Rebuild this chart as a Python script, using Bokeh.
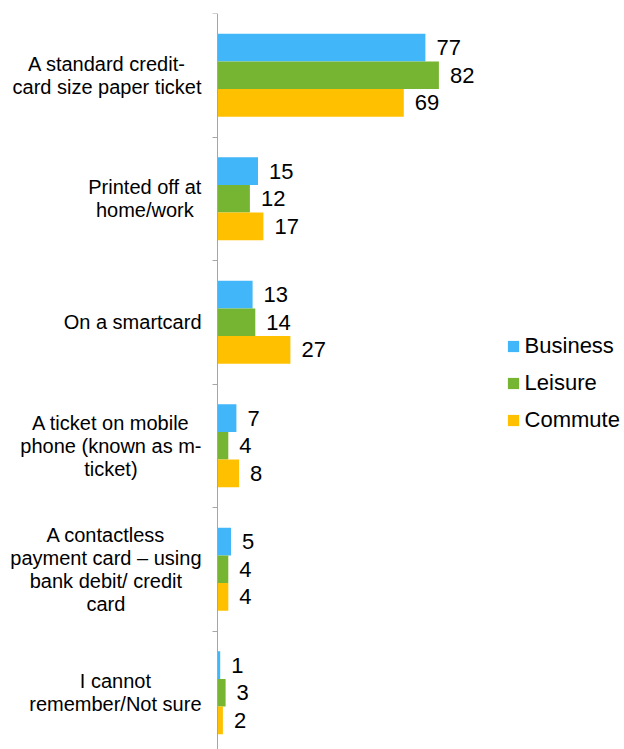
from bokeh.plotting import figure
from bokeh.models import Range1d, FixedTicker, LinearAxis, Legend, LegendItem, ColumnDataSource
from bokeh.core.properties import value
from bokeh.embed import file_html
from bokeh.resources import INLINE

# ---- data ----
categories = [
    "A standard credit-\ncard size paper ticket",
    "Printed off at\nhome/work",
    "On a smartcard",
    "A ticket on mobile\nphone (known as m-\nticket)",
    "A contactless\npayment card \u2013 using\nbank debit/ credit\ncard",
    "I cannot\nremember/Not sure",
]
series_names = ["Business", "Leisure", "Commute"]
business = [77, 15, 13, 7, 5, 1]
leisure = [82, 12, 14, 4, 4, 3]
commute = [69, 17, 27, 8, 4, 2]

# ---- style ----
colors = ["#41B6F9", "#76B531", "#FFC000"]
FONT = "Liberation Sans"
W, H = 624, 749
border_left = 10
border_top = 13
axis_px = 217            # page x of the value axis (value 0)
frame_w = W - border_left
frame_h = H - border_top
px_per_val = 2.70
px_per_cat = 123.5
bar_px = 27.6
label_right_px = 201     # right edge of category label blocks
line_px = 23
cat_font_px = 20
val_font_px = 22

# Arial / Liberation Sans advance widths (per 1000 em)
CW = {' ': 278, '-': 333, '/': 278, '(': 333, ')': 333, '\u2013': 556,
      'A': 667, 'I': 278, 'N': 722, 'O': 778, 'P': 667,
      'a': 556, 'b': 556, 'c': 500, 'd': 556, 'e': 556, 'f': 278, 'g': 556,
      'h': 556, 'i': 222, 'j': 222, 'k': 500, 'l': 222, 'm': 833, 'n': 556,
      'o': 556, 'p': 556, 'q': 556, 'r': 333, 's': 500, 't': 278, 'u': 556,
      'v': 500, 'w': 722, 'x': 500, 'y': 500, 'z': 500}


def text_w(s):
    return sum(CW.get(ch, 556) for ch in s) / 1000.0 * cat_font_px


x_start = -(axis_px - border_left) / px_per_val
x_end = (W - axis_px) / px_per_val
y_end = frame_h / px_per_cat

p = figure(width=W, height=H, output_backend="svg", toolbar_location=None,
           x_range=Range1d(x_start, x_end), y_range=Range1d(y_end, 0),
           x_axis_location=None, y_axis_location=None,
           min_border_left=border_left, min_border_right=0,
           min_border_top=border_top, min_border_bottom=0)
p.outline_line_color = None
p.background_fill_color = "white"
p.border_fill_color = "white"
for g in p.grid:
    g.visible = False
    g.grid_line_color = None

ax = LinearAxis(fixed_location=0,
                ticker=FixedTicker(ticks=list(range(len(categories) + 1))),
                major_label_text_color=None, major_label_text_font_size="0px",
                major_label_standoff=0,
                axis_line_color="#A6A6A6", major_tick_line_color="#A6A6A6",
                minor_tick_line_color=None, major_tick_out=5, major_tick_in=0)
p.add_layout(ax, "left")

centers = [i + 0.5 for i in range(len(categories))]
bar_h = bar_px / px_per_cat

renderers = []
for k, (vals, col) in enumerate(zip([business, leisure, commute], colors)):
    ys = [c + (k - 1) * bar_h for c in centers]
    src = ColumnDataSource(dict(y=ys, right=vals, label=[str(v) for v in vals]))
    r = p.hbar(y="y", right="right", left=0, height=bar_h, fill_color=col,
               line_color=None, source=src)
    p.text(x="right", y="y", text="label", source=src, x_offset=11,
           text_baseline="middle", text_align="left",
           text_font=value(FONT), text_font_size=f"{val_font_px}px",
           text_color="#000000")
    renderers.append(r)

# category labels: block right-aligned, lines centred
lx, ly, lt = [], [], []
for i, cat in enumerate(categories):
    lines = cat.split("\n")
    n = len(lines)
    maxw = max(text_w(l) for l in lines)
    xc = (label_right_px - maxw / 2 - axis_px) / px_per_val
    for j, line in enumerate(lines):
        lx.append(xc)
        ly.append(centers[i] + (j - (n - 1) / 2) * line_px / px_per_cat)
        lt.append(line)
p.text(x="x", y="y", text="t", source=ColumnDataSource(dict(x=lx, y=ly, t=lt)),
       text_align="center", text_baseline="middle", text_font=value(FONT),
       text_font_size=f"{cat_font_px}px", text_color="#000000")

legend = Legend(items=[LegendItem(label=n, renderers=[r]) for n, r in zip(series_names, renderers)],
                location=(505.6 - border_left, 316), orientation="vertical",
                glyph_width=14, glyph_height=14, label_height=14,
                label_standoff=5, spacing=11, padding=0, margin=0,
                label_text_font=FONT, label_text_font_size=f"{val_font_px}px",
                label_text_color="#000000",
                border_line_color=None, background_fill_alpha=0)
p.add_layout(legend)

open("out.html", "w").write(file_html(p, INLINE))
